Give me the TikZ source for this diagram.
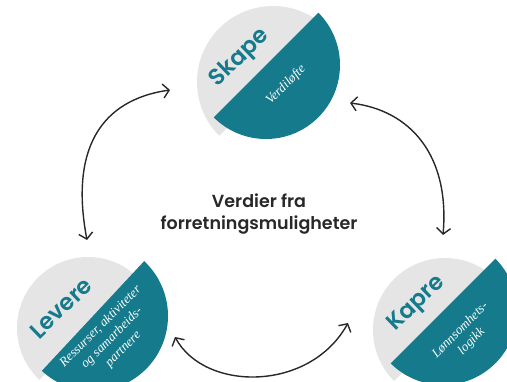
\documentclass[tikz,border=0pt]{standalone}
\usepackage{fontspec}
\newfontfamily\poppins{Poppins}[BoldFont={* SemiBold}]
\newfontfamily\serifit{Liberation Serif}
\usetikzlibrary{arrows.meta}
\definecolor{petrol}{RGB}{20,122,140}
\definecolor{lightgrey}{RGB}{229,229,229}
\definecolor{ink}{RGB}{40,40,40}

\begin{document}
\begin{tikzpicture}[
    x=1pt, y=1pt,
    greyhalf/.style={fill=lightgrey},
    tealhalf/.style={fill=petrol},
    phase/.style={font=\poppins\bfseries\fontsize{23}{26}\selectfont, text=petrol, rotate=44, inner sep=0pt},
    detail/.style={font=\serifit\itshape\fontsize{13}{16}\selectfont, text=white, rotate=45, align=center, inner sep=0pt},
    core/.style={font=\poppins\bfseries\fontsize{17.5}{22}\selectfont, text=ink, align=center},
    arr/.style={{Straight Barb[length=6pt,width=14pt]}-{Straight Barb[length=6pt,width=14pt]}, line width=1.4pt, draw=ink}
  ]
  \useasboundingbox (0,-381) rectangle (507,0);
  \clip (0,-381) rectangle (507,0);
  % Skape
  \fill[greyhalf] (273,-82) ++(45:76) arc[start angle=45, end angle=225, radius=76] -- cycle;
  \fill[tealhalf] (266,-65) ++(45:74) arc[start angle=45, end angle=-135, radius=74] -- cycle;
  \node[phase] (skape) at (240,-58) {Skape};
  \node[detail] (skapetxt) at (286,-85) {Verdiløfte};
  % Levere
  \fill[greyhalf] (88,-328) ++(47:71) arc[start angle=47, end angle=227, radius=71] -- cycle;
  \fill[tealhalf] (93,-316) ++(47:75) arc[start angle=47, end angle=-133, radius=75] -- cycle;
  \node[phase] (levere) at (61,-308) {Levere};
  \node[detail] (leveretxt) at (112,-338) {Ressurser, aktiviteter\\og samarbeids-\\partnere};
  % Kapre
  \fill[greyhalf] (445,-330) ++(45:72) arc[start angle=45, end angle=225, radius=72] -- cycle;
  \fill[tealhalf] (443,-311) ++(45:74) arc[start angle=45, end angle=-135, radius=74] -- cycle;
  \node[phase] (kapre) at (417,-304) {Kapre};
  \node[detail] (kapretxt) at (466,-336) {Lønnsomhets-\\logikk};
  % midten
  \node[core] (core) at (259,-214) {Verdier fra\\forretningsmuligheter};
  % piler
  \coordinate (skapeW) at (170,-90);
  \coordinate (levereN) at (87,-240);
  \coordinate (skapeE) at (350,-103);
  \coordinate (kapreN) at (443,-235);
  \coordinate (levereE) at (175,-337);
  \coordinate (kapreW) at (348,-323);
  \draw[arr] (skapeW) .. controls (100,-100) and (70,-150) .. (levereN);
  \draw[arr] (skapeE) .. controls (410,-110) and (450,-155) .. (kapreN);
  \draw[arr] (levereE) .. controls (205,-392) and (310,-392) .. (kapreW);
\end{tikzpicture}
\end{document}
